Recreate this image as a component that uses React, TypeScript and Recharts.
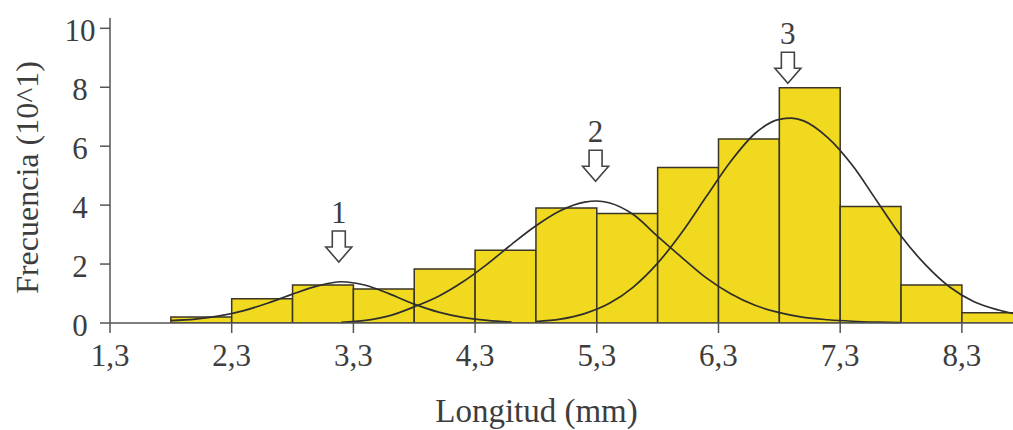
import React from "react";
import {
  ComposedChart,
  Line,
  XAxis,
  YAxis,
  ReferenceArea,
  ReferenceDot,
} from "recharts";

// histogram: bin edges (mm) and counts (x10)
const binEdges = [1.8, 2.3, 2.8, 3.3, 3.8, 4.3, 4.8, 5.3, 5.8, 6.3, 6.8, 7.3, 7.8, 8.3, 8.8];
const binCounts = [0.2, 0.82, 1.29, 1.15, 1.83, 2.47, 3.9, 3.72, 5.28, 6.24, 7.98, 3.95, 1.29, 0.35];

// fitted components
const comp1X = [1.8, 2.0, 2.2, 2.4, 2.6, 2.8, 3.0, 3.2, 3.4, 3.6, 3.8, 4.0, 4.2, 4.4, 4.6];
const comp1Y = [0.08, 0.13, 0.24, 0.42, 0.68, 0.98, 1.25, 1.4, 1.28, 0.98, 0.64, 0.37, 0.19, 0.09, 0.03];

const comp2X = [3.2, 3.4, 3.6, 3.8, 4.0, 4.2, 4.4, 4.6, 4.8, 5.0, 5.2, 5.3, 5.4, 5.6, 5.8, 6.0, 6.2, 6.4, 6.6, 6.8, 7.0, 7.2, 7.4, 7.6, 7.8];
const comp2Y = [0.02, 0.09, 0.25, 0.55, 0.91, 1.4, 2.0, 2.67, 3.3, 3.81, 4.1, 4.14, 4.08, 3.68, 2.94, 2.22, 1.53, 0.99, 0.6, 0.35, 0.19, 0.11, 0.06, 0.03, 0.01];

const comp3X = [4.8, 5.0, 5.2, 5.4, 5.6, 5.8, 6.0, 6.2, 6.4, 6.6, 6.8, 6.9, 7.0, 7.2, 7.4, 7.6, 7.8, 8.0, 8.2, 8.4, 8.6, 8.8];
const comp3Y = [0.05, 0.13, 0.32, 0.66, 1.22, 2.03, 3.08, 4.29, 5.48, 6.43, 6.91, 6.95, 6.86, 6.28, 5.35, 4.15, 2.95, 1.98, 1.22, 0.72, 0.44, 0.26];

const xTicks = [1.3, 2.3, 3.3, 4.3, 5.3, 6.3, 7.3, 8.3];
const yTicks = [0, 2, 4, 6, 8, 10];

// peak markers: label, x, top of arrow (y)
const peakLabels = ["1", "2", "3"];
const peakX = [3.18, 5.29, 6.87];
const peakY = [3.12, 5.86, 9.19];

const FONT = "'Liberation Serif', 'DejaVu Serif', serif";
const TEXT = "#3d3d3d";
const AXIS = "#555";
const INK = "#2e2e2e";

const toPoints = (xs: number[], ys: number[]) => xs.map((x, i) => ({ x, y: ys[i] }));

const comma = (v: number) => String(v).replace(".", ",");

function YTick(props: any) {
  const { x, y, payload } = props;
  return (
    <text x={x - 16} y={y + 13} textAnchor="middle" fill={TEXT} fontSize={31} fontFamily={FONT}>
      {payload.value}
    </text>
  );
}

function PeakArrow(props: any) {
  const { cx, cy, label } = props;
  if (cx == null || cy == null) return null;
  const d = `M${cx - 6.5},${cy} L${cx + 6.5},${cy} L${cx + 6.5},${cy + 16} L${cx + 13},${cy + 16} L${cx},${cy + 31} L${cx - 13},${cy + 16} L${cx - 6.5},${cy + 16} Z`;
  return (
    <g>
      <path d={d} fill="#fff" stroke="#444" strokeWidth={1.6} strokeLinejoin="miter" />
      <text x={cx} y={cy - 8} textAnchor="middle" fill={TEXT} fontSize={31} fontFamily={FONT}>
        {label}
      </text>
    </g>
  );
}

export default function App() {
  return (
    <div style={{ position: "absolute", left: 0, top: 0, background: "#fff" }}>
      <ComposedChart
        width={1013}
        height={430}
        margin={{ top: 18, right: 0, bottom: 0, left: 0 }}
        style={{ fontFamily: FONT }}
      >
        <XAxis
          type="number"
          dataKey="x"
          domain={[1.3, 8.72]}
          allowDataOverflow
          ticks={xTicks}
          tickFormatter={comma}
          height={107}
          tickSize={10}
          tickMargin={11}
          stroke={AXIS}
          strokeWidth={1.5}
          tick={{ fill: TEXT, fontSize: 31, fontFamily: FONT }}
          label={{
            content: (p: any) => {
              const vb = p.viewBox;
              return (
                <text
                  x={vb.x + vb.width / 2 - 25}
                  y={vb.y + 99}
                  textAnchor="middle"
                  fill={TEXT}
                  fontSize={33}
                  fontFamily={FONT}
                >
                  Longitud (mm)
                </text>
              );
            },
          }}
        />
        <YAxis
          type="number"
          domain={[0, 10.35]}
          ticks={yTicks}
          width={110}
          tickSize={10}
          tickMargin={4}
          stroke={AXIS}
          strokeWidth={1.5}
          tick={<YTick />}
          label={{
            content: (p: any) => {
              const vb = p.viewBox;
              const cy = vb.y + vb.height / 2 + 7;
              return (
                <text
                  x={38}
                  y={cy}
                  transform={`rotate(-90, 38, ${cy})`}
                  textAnchor="middle"
                  fill={TEXT}
                  fontSize={32}
                  fontFamily={FONT}
                >
                  Frecuencia (10^1)
                </text>
              );
            },
          }}
        />
        {binCounts.map((c, i) => (
          <ReferenceArea
            key={i}
            x1={binEdges[i]}
            x2={binEdges[i + 1]}
            y1={0}
            y2={c}
            fill="#f0d91e"
            fillOpacity={1}
            stroke="#3a3526"
            strokeWidth={1.5}
            ifOverflow="hidden"
          />
        ))}
        <Line
          data={toPoints(comp1X, comp1Y)}
          dataKey="y"
          type="monotone"
          stroke={INK}
          strokeWidth={1.7}
          dot={false}
          isAnimationActive={false}
        />
        <Line
          data={toPoints(comp2X, comp2Y)}
          dataKey="y"
          type="monotone"
          stroke={INK}
          strokeWidth={1.7}
          dot={false}
          isAnimationActive={false}
        />
        <Line
          data={toPoints(comp3X, comp3Y)}
          dataKey="y"
          type="monotone"
          stroke={INK}
          strokeWidth={1.7}
          dot={false}
          isAnimationActive={false}
        />
        {peakLabels.map((lab, i) => (
          <ReferenceDot
            key={lab}
            x={peakX[i]}
            y={peakY[i]}
            r={1}
            shape={(p: any) => <PeakArrow {...p} label={lab} />}
          />
        ))}
      </ComposedChart>
    </div>
  );
}
